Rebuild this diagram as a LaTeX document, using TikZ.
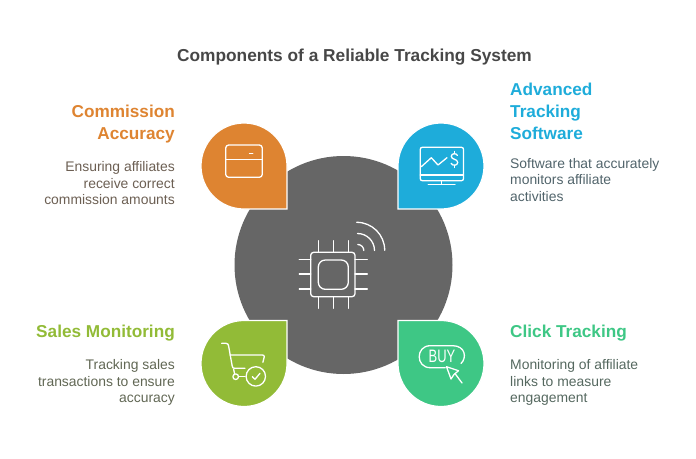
\documentclass[tikz,border=0pt]{standalone}
\usepackage{fontspec}
\setmainfont{Liberation Sans}
\usetikzlibrary{positioning}
\definecolor{hubgrey}{HTML}{666666}
\definecolor{accuracy}{HTML}{DE8431}
\definecolor{software}{HTML}{1EACDA}
\definecolor{sales}{HTML}{92BB37}
\definecolor{clicks}{HTML}{3EC785}
\tikzset{
    dropshape/.style={
           draw=white,
           line width=1.2pt,
           },
    icon/.style={
           draw=white,
           line width=1.3pt,
           line cap=round,
           line join=round,
           },
    headtext/.style={
           inner sep=0pt,
           font=\fontsize{17.2}{22}\selectfont\bfseries,
           },
    desctext/.style={
           inner sep=0pt,
           text=#1!20!black!70,
           font=\fontsize{13.9}{16.6}\selectfont,
           },
}

\begin{document}
\begin{tikzpicture}[x=1pt,y=-1pt]
 \useasboundingbox (0,0) rectangle (696,458);

 \node[inner sep=0pt,text=black!72,font=\fontsize{17.3}{22}\selectfont\bfseries]
   (TITLE) at (354.5,57) {Components of a Reliable Tracking System};

 \node[circle,fill=hubgrey,minimum size=218pt,inner sep=0pt] (HUB) at (343.5,265) {};

 \path[dropshape,fill=accuracy,shift={(244,166)}]
   (43pt,-43pt) -- (43pt,0pt) arc[start angle=0,end angle=270,radius=43pt] -- cycle;
 \path[dropshape,fill=software,shift={(441,166)},rotate=270]
   (43pt,-43pt) -- (43pt,0pt) arc[start angle=0,end angle=270,radius=43pt] -- cycle;
 \path[dropshape,fill=sales,shift={(244,363.5)},rotate=90]
   (43pt,-43pt) -- (43pt,0pt) arc[start angle=0,end angle=270,radius=43pt] -- cycle;
 \path[dropshape,fill=clicks,shift={(441,363.5)},rotate=180]
   (43pt,-43pt) -- (43pt,0pt) arc[start angle=0,end angle=270,radius=43pt] -- cycle;

 \draw[icon,rounded corners=3pt] (310.7,252.3) rectangle (355,296.7);
 \draw[icon,rounded corners=7pt] (318.3,260) rectangle (348.3,289.3);
 \foreach \px in {318.3,333.3,348.3} {
   \draw[icon] (\px,240.7) -- (\px,252.3);
   \draw[icon] (\px,296.7) -- (\px,308.3);
 }
 \foreach \py in {259.3,274,289} {
   \draw[icon] (299.3,\py) -- (310.7,\py);
   \draw[icon] (355,\py) -- (367.3,\py);
 }
 \draw[icon] (356.7,222.3) arc[start angle=90,end angle=0,radius=28pt];
 \draw[icon] (357.5,233.5) arc[start angle=90,end angle=0,radius=17pt];
 \draw[icon] (357.8,244.5) arc[start angle=90,end angle=0,radius=6pt];

 \draw[icon,rounded corners=3pt] (225.7,145) rectangle (262.3,177.3);
 \draw[icon] (225.7,159.3) -- (262.3,159.3);
 \draw[icon] (249.5,153.3) -- (252.8,153.3);

 \draw[icon,rounded corners=2pt] (420.3,147.3) rectangle (463.5,180.7);
 \draw[icon] (420.3,175) -- (463.5,175);
 \draw[icon] (441.5,180.7) -- (441.5,184.3);
 \draw[icon] (428.3,184.3) -- (455,184.3);
 \draw[icon] (421.3,166.7) -- (431.3,157.7) -- (438,165) -- (447,157.7);
 \draw[icon] (457.5,155.5) .. controls (456.5,153) and (451.3,153) .. (451.3,156.3)
   .. controls (451.3,160) and (457.7,158.5) .. (457.7,162.5)
   .. controls (457.7,166) and (452,166) .. (451.2,163.3);
 \draw[icon] (454.5,151.5) -- (454.5,153.5);
 \draw[icon] (454.5,165.3) -- (454.5,167.5);

 \draw[icon] (221.7,343.3) -- (226,343.3) .. controls (228,343.3) and (228.3,344.5) .. (228.6,346)
   -- (232.2,366) .. controls (232.5,367.8) and (233,368.3) .. (235,368.3) -- (245,368.3);
 \draw[icon] (230,355) -- (262.5,355) .. controls (264,355) and (264.5,355.8) .. (264.2,357) -- (262.9,362.3);
 \draw[icon] (235.7,376.7) circle[radius=2.8pt];
 \draw[icon] (238.5,376.7) -- (245,376.7);
 \draw[icon] (233.6,369) -- (234.6,374);
 \draw[icon] (255.8,376.4) circle[radius=9.7pt];
 \draw[icon] (252.3,376.7) -- (255,379.3) -- (260,373.3);

 \draw[icon] (445.3,367.7) -- (430.3,367.7)
   .. controls (415.5,367.7) and (415.5,345.7) .. (430.3,345.7)
   -- (452.7,345.7) .. controls (465.5,345.7) and (467,358) .. (461,363.5);
 \node[inner sep=0pt,text=white,transform shape,xscale=.72,font=\fontsize{18}{18}\selectfont]
   (BUY) at (442,356.7) {BUY};
 \draw[icon] (446.5,366.7) -- (451,379) -- (454,374.5) -- (458.5,370.7) -- cycle;
 \draw[icon] (455,373.5) -- (462,383);

 \node[headtext,text=accuracy,align=right,anchor=north east]
   (ACCURACY) at (175,105) {Commission\\Accuracy};
 \node[desctext=accuracy,align=right,below=18pt of ACCURACY.south east,anchor=north east]
   (ACCURACYTEXT) {Ensuring affiliates\\receive correct\\commission amounts};

 \node[headtext,text=software,align=left,anchor=north west]
   (SOFTWARE) at (510,83) {Advanced\\Tracking\\Software};
 \node[desctext=software,align=left,below=18pt of SOFTWARE.south west,anchor=north west]
   (SOFTWARETEXT) {Software that accurately\\monitors affiliate\\activities};

 \node[headtext,text=sales,align=right,anchor=north east]
   (SALES) at (175,325) {Sales Monitoring};
 \node[desctext=sales,align=right,below=18pt of SALES.south east,anchor=north east]
   (SALESTEXT) {Tracking sales\\transactions to ensure\\accuracy};

 \node[headtext,text=clicks,align=left,anchor=north west]
   (CLICKS) at (510,325) {Click Tracking};
 \node[desctext=clicks,align=left,below=18pt of CLICKS.south west,anchor=north west]
   (CLICKSTEXT) {Monitoring of affiliate\\links to measure\\engagement};
\end{tikzpicture}
\end{document}
